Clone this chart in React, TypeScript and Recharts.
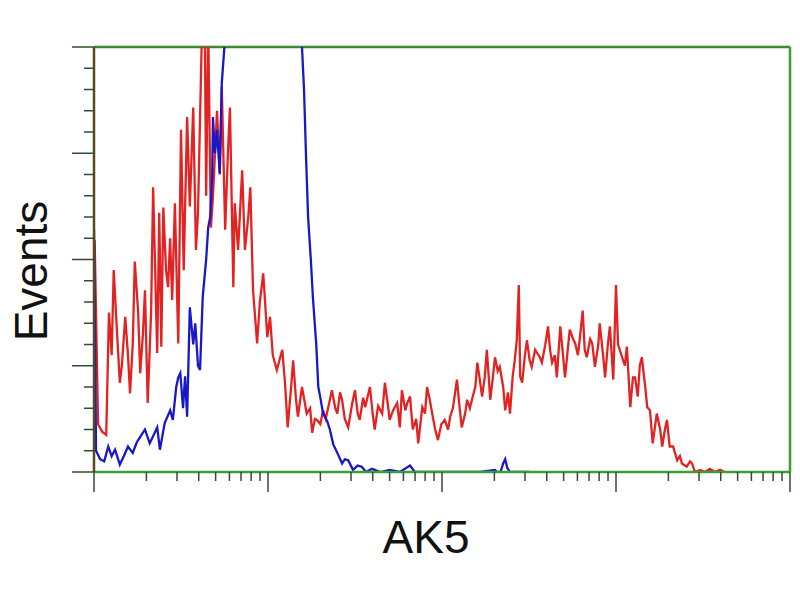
import { LineChart, Line, XAxis, YAxis, ReferenceLine } from 'recharts';

// channel (0-1024, 4 log decades) and event counts
const redChannels = [
  1, 6, 12, 18, 22, 26, 29, 34, 38, 41, 46, 50, 53, 57, 60, 65, 68, 72, 75, 79,
  84, 87, 90, 93, 96, 99, 102, 106, 109, 112, 115, 119, 124, 128, 132, 137, 141, 146, 150, 153,
  159, 163, 165, 168, 172, 175, 181, 185, 188, 193, 197, 200, 205, 207, 212, 218, 222, 227, 230, 234,
  240, 244, 249, 255, 259, 263, 269, 277, 281, 285, 290, 293, 297, 300, 306, 313, 318, 321, 325, 328,
  333, 337, 341, 346, 350, 355, 358, 362, 365, 369, 374, 380, 384, 388, 391, 396, 399, 403, 406, 410,
  413, 418, 424, 428, 433, 435, 440, 446, 450, 453, 458, 461, 465, 469, 474, 477, 483, 487, 490, 494,
  499, 502, 506, 511, 516, 521, 524, 528, 534, 538, 541, 546, 549, 553, 556, 561, 564, 568, 571, 575,
  578, 583, 587, 590, 594, 597, 602, 605, 609, 612, 616, 619, 622, 625, 627, 630, 634, 637, 641, 644,
  649, 652, 656, 659, 664, 668, 671, 674, 678, 681, 686, 690, 693, 697, 700, 705, 708, 712, 715, 719,
  722, 725, 730, 733, 737, 742, 744, 749, 752, 756, 759, 764, 768, 771, 777, 781, 784, 789, 793, 796,
  800, 803, 806, 811, 814, 818, 822, 828, 833, 836, 840, 843, 847, 852, 858, 862, 865, 872, 877, 880,
  884, 892, 899, 906, 914, 921, 928,
];
const redCounts = [
  218, 45, 38, 35, 150, 110, 190, 130, 84, 100, 146, 110, 74, 120, 198, 150, 93, 130, 171, 65,
  150, 268, 190, 112, 244, 118, 249, 190, 174, 220, 162, 253, 121, 322, 190, 334, 250, 343, 209, 244,
  420, 420, 260, 420, 230, 259, 340, 280, 362, 228, 300, 343, 174, 253, 209, 284, 209, 240, 268, 171,
  121, 160, 187, 127, 146, 110, 96, 115, 84, 42, 80, 105, 70, 52, 80, 55, 60, 37, 50, 49,
  45, 58, 50, 65, 77, 60, 55, 75, 68, 50, 42, 65, 77, 55, 49, 70, 61, 72, 80, 55,
  40, 62, 55, 84, 60, 49, 58, 65, 42, 77, 58, 65, 71, 40, 50, 27, 61, 55, 80, 68,
  50, 40, 30, 45, 49, 40, 52, 60, 87, 60, 42, 55, 68, 60, 68, 80, 103, 85, 71, 90,
  115, 68, 90, 108, 95, 99, 80, 58, 75, 55, 90, 105, 124, 176, 90, 84, 110, 124, 105, 99,
  115, 112, 108, 103, 120, 137, 115, 103, 110, 89, 137, 110, 89, 115, 134, 125, 121, 110, 127, 152,
  115, 108, 125, 121, 99, 120, 140, 110, 89, 120, 137, 87, 176, 120, 108, 100, 118, 61, 89, 89,
  71, 100, 108, 80, 61, 58, 27, 55, 40, 24, 40, 49, 24, 24, 11, 15, 8, 5, 10, 8,
  0, 2, 0, 3, 0, 2, 0,
];

const blueChannels = [
  0, 3, 9, 15, 21, 26, 31, 38, 44, 50, 57, 63, 68, 75, 82, 88, 93, 97, 104, 112,
  116, 121, 124, 127, 131, 134, 137, 141, 146, 149, 153, 156, 160, 165, 168, 171, 174, 175, 178, 181,
  185, 188, 193, 200, 215, 237, 259, 281, 296, 303, 306, 309, 312, 315, 319, 322, 327, 330, 333, 337,
  343, 347, 352, 358, 365, 369, 374, 381, 388, 394, 400, 409, 421, 435, 450, 465, 472, 568, 590, 593,
  598, 602, 605, 608, 612, 641,
];
const blueCounts = [
  228, 20, 12, 10, 24, 15, 21, 7, 15, 24, 18, 28, 33, 40, 27, 35, 42, 21, 46, 58,
  49, 80, 89, 93, 60, 90, 52, 155, 120, 140, 100, 96, 165, 200, 230, 240, 281, 334, 300, 322,
  281, 366, 410, 520, 700, 850, 900, 750, 520, 430, 400, 360, 296, 240, 200, 165, 120, 80, 70, 55,
  48, 40, 26, 18, 8, 12, 11, 2, 6, 5, 0, 3, 0, 2, 0, 6, 0, 0, 2, 0,
  0, 8, 12, 4, 0, 0,
];

const decades = [0, 1, 2, 3];
const decadeSteps = [1, 2, 3, 4, 5, 6, 7, 8, 9];
const yTicks = [0, 20, 40, 60, 80, 100, 120, 140, 160, 180, 200, 220, 240, 260, 280, 300, 320, 340, 360, 380, 400];

const xTicks = decades
  .flatMap((d) => decadeSteps.map((k) => 256 * (d + Math.log10(k))))
  .concat([1024]);

const red = redChannels.map((ch, i) => ({ ch, count: redCounts[i] }));
const blue = blueChannels.map((ch, i) => ({ ch, count: blueCounts[i] }));

const TICK = '#2f4f2a';
const FONT = '"Liberation Sans", Arial, sans-serif';

const XTick = (props: any) => {
  const { x, y, payload } = props;
  const major = Math.abs(payload.value / 256 - Math.round(payload.value / 256)) < 1e-6;
  return <line x1={x} x2={x} y1={y} y2={y + (major ? 20 : 9)} stroke={TICK} strokeWidth={1.5} />;
};

const YTick = (props: any) => {
  const { x, y, payload } = props;
  const major = payload.value % 100 === 0;
  return <line x1={x - (major ? 22 : 10)} x2={x} y1={y} y2={y} stroke={TICK} strokeWidth={1.5} />;
};

export default function App() {
  return (
    <div style={{ position: 'absolute', left: 0, top: 0, width: 800, height: 600, background: '#fff' }}>
      <LineChart width={800} height={600} margin={{ top: 47, right: 10, bottom: 0, left: 0 }}>
        <XAxis
          dataKey="ch"
          type="number"
          domain={[0, 1024]}
          ticks={xTicks}
          interval={0}
          height={128}
          tickSize={0}
          tickMargin={0}
          tickLine={false}
          tick={<XTick />}
          axisLine={{ stroke: '#3c9e34', strokeWidth: 2.5 }}
          allowDataOverflow
          label={{
            content: () => (
              <text x={426} y={553} textAnchor="middle" fontSize={46} fontFamily={FONT} fill="#111">
                AK5
              </text>
            ),
          }}
        />
        <YAxis
          type="number"
          domain={[0, 400]}
          ticks={yTicks}
          interval={0}
          width={94}
          tickSize={0}
          tickMargin={0}
          tickLine={false}
          tick={<YTick />}
          axisLine={{ stroke: '#5a4a1c', strokeWidth: 2.5 }}
          allowDataOverflow
          label={{
            content: () => (
              <text
                x={47}
                y={271}
                transform="rotate(-90, 47, 271)"
                textAnchor="middle"
                fontSize={46}
                fontFamily={FONT}
                fill="#111"
              >
                Events
              </text>
            ),
          }}
        />
        <ReferenceLine y={400} stroke="#3c8a30" strokeWidth={2.5} />
        <ReferenceLine x={1024} stroke="#3c9e34" strokeWidth={2.5} />
        <Line
          data={red}
          dataKey="count"
          type="linear"
          stroke="#e32222"
          strokeWidth={2.3}
          dot={false}
          isAnimationActive={false}
        />
        <Line
          data={blue}
          dataKey="count"
          type="linear"
          stroke="#1818c8"
          strokeWidth={2.3}
          dot={false}
          isAnimationActive={false}
        />
      </LineChart>
    </div>
  );
}
